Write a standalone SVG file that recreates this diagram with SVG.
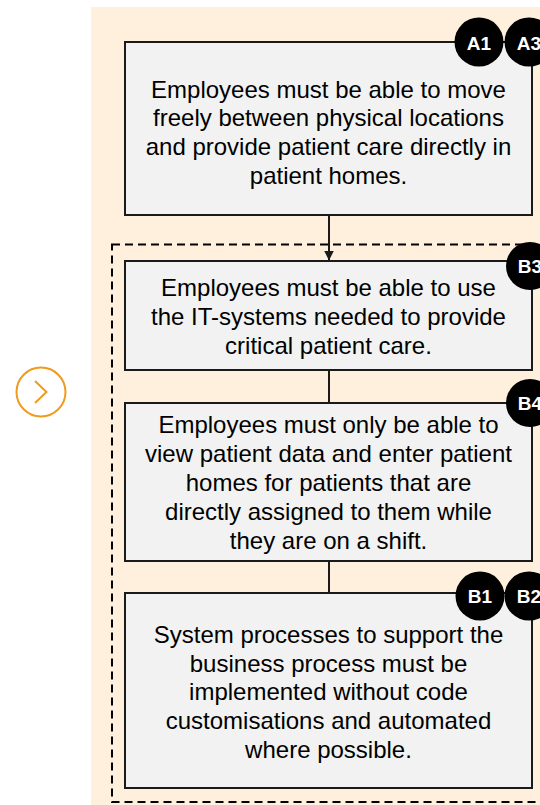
<svg xmlns="http://www.w3.org/2000/svg" width="540" height="805" viewBox="0 0 540 805">
<defs>
<style>
.box{fill:#F2F2F2;stroke:#1A1A1A;stroke-width:2}
.txt{font-family:"Liberation Sans",Arial,sans-serif;font-size:24px;fill:#000;text-anchor:middle}
.badge{fill:#000}
.btxt{font-family:"Liberation Sans",Arial,sans-serif;font-size:19px;font-weight:bold;fill:#fff;text-anchor:middle}
.conn{stroke:#1A1A1A;stroke-width:2;fill:none}
</style>
<marker id="arrow" markerWidth="10" markerHeight="11" refX="9.5" refY="5" orient="auto" markerUnits="userSpaceOnUse" viewBox="0 0 10 10">
<path d="M0,0 L10,5 L0,10 Z" fill="#1A1A1A"/>
</marker>
</defs>
<rect x="91" y="7" width="460" height="805" fill="#FEF0DD"/>
<g id="nav">
<circle cx="41" cy="392" r="24.5" fill="none" stroke="#EF9B1E" stroke-width="2"/>
<polyline points="35,381 46.5,392 35,403" fill="none" stroke="#EF9B1E" stroke-width="2"/>
</g>
<g id="group-b">
<rect x="112" y="244.5" width="440" height="557.5" fill="none" stroke="#000" stroke-width="2" stroke-dasharray="8,5"/>
</g>
<g id="connectors">
<line class="conn" x1="329" y1="215" x2="329" y2="260" marker-end="url(#arrow)"/>
<line class="conn" x1="329" y1="370" x2="329" y2="403"/>
<line class="conn" x1="329" y1="561" x2="329" y2="593"/>
</g>
<g id="node-a">
<rect class="box" x="125" y="42" width="407" height="173"/>
<text class="txt" x="328.5" y="97.5">Employees must be able to move</text>
<text class="txt" x="328.5" y="126.3">freely between physical locations</text>
<text class="txt" x="328.5" y="155.1">and provide patient care directly in</text>
<text class="txt" x="328.5" y="183.9">patient homes.</text>
<circle class="badge" cx="479" cy="42" r="24.5"/>
<text class="btxt" x="479" y="49.5">A1</text>
<circle class="badge" cx="529" cy="42" r="24.5"/>
<text class="btxt" x="529" y="49.5">A3</text>
</g>
<g id="node-b3">
<rect class="box" x="125" y="261" width="407" height="109"/>
<text class="txt" x="328.5" y="296">Employees must be able to use</text>
<text class="txt" x="328.5" y="324.8">the IT-systems needed to provide</text>
<text class="txt" x="328.5" y="353.6">critical patient care.</text>
<circle class="badge" cx="530" cy="266" r="24"/>
<text class="btxt" x="530" y="273">B3</text>
</g>
<g id="node-b4">
<rect class="box" x="125" y="403" width="407" height="158"/>
<text class="txt" x="328.5" y="433.3">Employees must only be able to</text>
<text class="txt" x="328.5" y="462.1">view patient data and enter patient</text>
<text class="txt" x="328.5" y="490.9">homes for patients that are</text>
<text class="txt" x="328.5" y="519.7">directly assigned to them while</text>
<text class="txt" x="328.5" y="548.5">they are on a shift.</text>
<circle class="badge" cx="530" cy="403" r="24"/>
<text class="btxt" x="530" y="410">B4</text>
</g>
<g id="node-b1">
<rect class="box" x="125" y="593" width="407" height="195"/>
<text class="txt" x="328.5" y="642.7">System processes to support the</text>
<text class="txt" x="328.5" y="671.5">business process must be</text>
<text class="txt" x="328.5" y="700.3">implemented without code</text>
<text class="txt" x="328.5" y="729.1">customisations and automated</text>
<text class="txt" x="328.5" y="757.9">where possible.</text>
<circle class="badge" cx="480" cy="596" r="24.5"/>
<text class="btxt" x="480" y="603">B1</text>
<circle class="badge" cx="529" cy="596" r="24.5"/>
<text class="btxt" x="529" y="603">B2</text>
</g>
</svg>
